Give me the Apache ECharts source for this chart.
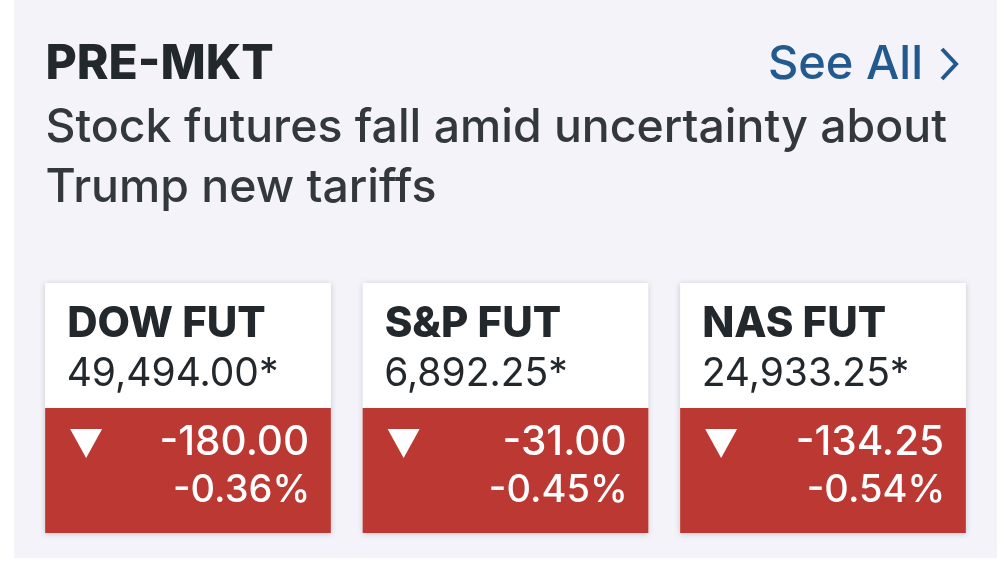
<!DOCTYPE html>
<html>
<head>
<meta charset="utf-8">
<title>PRE-MKT</title>
<script src="https://cdn.jsdelivr.net/npm/echarts@6/dist/echarts.min.js"></script>
<style>
html, body { margin: 0; padding: 0; background: #fff; }
#main { width: 1005px; height: 564px; }
</style>
</head>
<body>
<div id="main"></div>
<script>
const indices = ['DOW FUT', 'S&P FUT', 'NAS FUT'];
const prices = [49494.00, 6892.25, 24933.25];
const changes = [-180.00, -31.00, -134.25];
const percents = [-0.36, -0.45, -0.54];

const FONT = 'Inter';
const INK = '#23282d';
const RED = '#bc3832';

const fmt = v => v.toLocaleString('en-US', { minimumFractionDigits: 2, maximumFractionDigits: 2 });

// one card per category, positions relative to the band
function renderCard(params, api) {
    const i = api.value(0);
    const top = api.coord([i, 1]);
    const mid = api.coord([i, 0.5]);
    const bottom = api.coord([i, 0]);
    const w = api.size([1, 0])[0] * 0.9;
    const x = top[0] - w / 2;
    const label = (text, dx, y, size, weight, fill, align) => ({
        type: 'text',
        style: {
            text: text, x: x + dx, y: y,
            font: weight + ' ' + size + 'px ' + FONT,
            fill: fill, align: align || 'left', verticalAlign: 'middle'
        }
    });
    return {
        type: 'group',
        children: [
            {
                type: 'rect',
                shape: { x: x, y: top[1], width: w, height: bottom[1] - top[1] },
                style: { fill: '#fff', shadowBlur: 6, shadowColor: 'rgba(0,0,0,0.18)', shadowOffsetY: 1 }
            },
            {
                type: 'rect',
                shape: { x: x, y: mid[1], width: w, height: bottom[1] - mid[1] },
                style: { fill: RED }
            },
            {
                type: 'polygon',
                shape: { points: [[x + 25, mid[1] + 21], [x + 57, mid[1] + 21], [x + 41, mid[1] + 50]] },
                style: { fill: '#fff' }
            },
            label(indices[i], 22, top[1] + 41, 42, 800, INK),
            label(fmt(prices[i]) + '*', 21.5, top[1] + 91, 39, 'normal', INK),
            label(fmt(changes[i]), 264, mid[1] + 35, 40.5, 500, '#fff', 'right'),
            label(fmt(percents[i]) + '%', 265, mid[1] + 83, 38, 500, '#fff', 'right')
        ]
    };
}

const chart = echarts.init(document.getElementById('main'), null, { renderer: 'canvas' });
chart.setOption({
    animation: false,
    backgroundColor: '#fff',
    title: {
        text: 'PRE-MKT',
        subtext: 'Stock futures fall amid uncertainty about\nTrump new tariffs',
        left: 45.5,
        top: 40,
        padding: 0,
        itemGap: 8,
        textStyle: { fontFamily: FONT, fontWeight: 800, fontSize: 48, color: INK, lineHeight: 50 },
        subtextStyle: { fontFamily: FONT, fontWeight: 500, fontSize: 46.4, color: '#33383d', lineHeight: 60 }
    },
    graphic: [
        {
            type: 'rect', z: -10,
            shape: { x: 14, y: 0, width: 983, height: 558 },
            style: { fill: '#f3f3f9' }
        },
        {
            type: 'text',
            style: {
                text: 'See All', x: 923, y: 65, align: 'right', verticalAlign: 'middle',
                font: '500 47px ' + FONT, fill: '#22598f'
            }
        },
        {
            type: 'polyline',
            shape: { points: [[942, 49], [956, 64], [942, 79]] },
            style: { stroke: '#22598f', lineWidth: 4, fill: 'none' }
        }
    ],
    grid: { left: 29.25, top: 283, width: 952.5, height: 250 },
    xAxis: { type: 'category', data: indices, show: false },
    yAxis: { type: 'value', min: 0, max: 1, show: false },
    series: [{
        type: 'custom',
        renderItem: renderCard,
        clip: false,
        data: indices.map((name, i) => [i])
    }]
});
window.onresize = chart.resize;
</script>
</body>
</html>
